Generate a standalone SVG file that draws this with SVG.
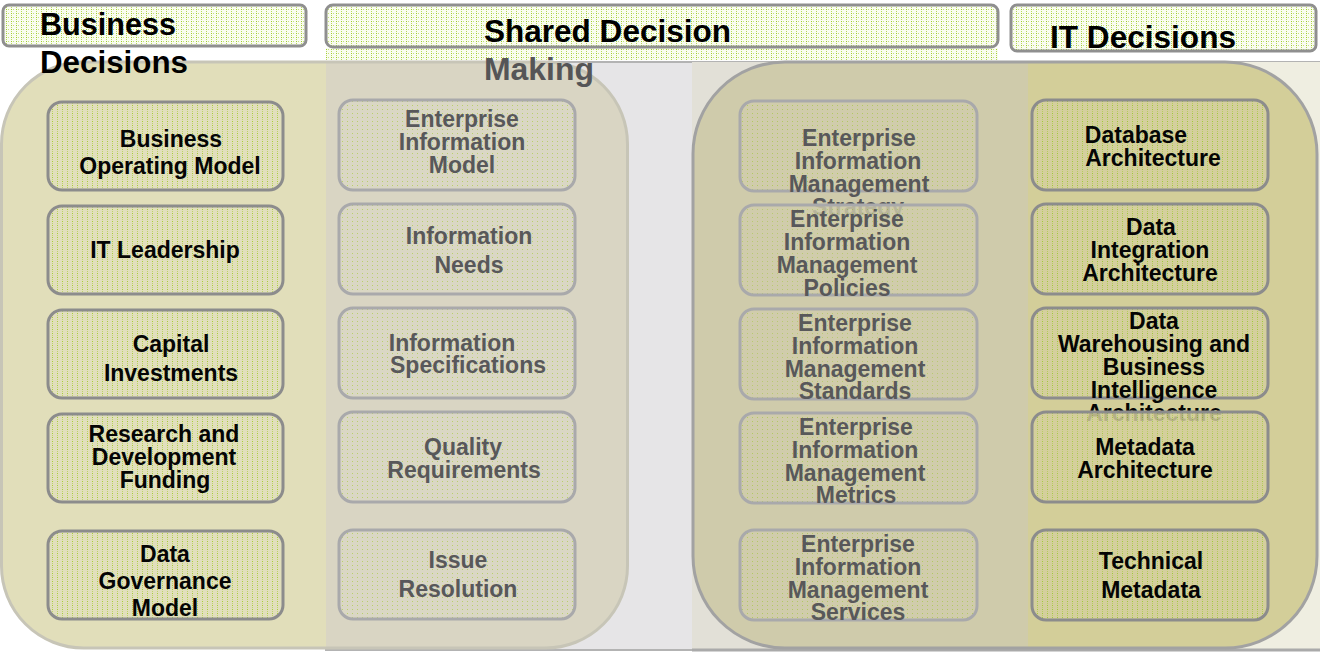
<svg xmlns="http://www.w3.org/2000/svg" width="1320" height="654" viewBox="0 0 1320 654">
<style>
.hd{font-family:"Liberation Sans",Arial,sans-serif;font-weight:bold;font-size:31px;fill:#000}
.t{font-family:"Liberation Sans",Arial,sans-serif;font-weight:bold;font-size:23px;text-anchor:middle}
.dk{fill:#050505}
.gr{fill:#58585a}
.nb{stroke:#8c8c8c;stroke-width:3}
.nl{stroke:#a9a9ab;stroke-width:3}
.hb{stroke:#8f8f8f;stroke-width:3}
</style>
<defs>
<pattern id="pH" width="5" height="4" patternUnits="userSpaceOnUse"><rect width="5" height="4" fill="#f9fcef"/><rect x="1" y="1" width="1" height="1" fill="#9fcc2e"/><rect x="3" y="1" width="1" height="1" fill="#c4e07a"/><rect x="1" y="3" width="1" height="1" fill="#b8da5c"/></pattern>
<pattern id="pL" width="5" height="4" patternUnits="userSpaceOnUse"><rect width="5" height="4" fill="#e1dfbc"/><rect x="2" y="1" width="1" height="1" fill="#a9cd3a"/><rect x="2" y="3" width="1" height="1" fill="#bed36a"/></pattern>
<pattern id="pM" width="5" height="4" patternUnits="userSpaceOnUse"><rect width="5" height="4" fill="#dad7c4"/><rect x="2" y="1" width="1" height="1" fill="#b9cf6c"/></pattern>
<pattern id="pRM" width="5" height="4" patternUnits="userSpaceOnUse"><rect width="5" height="4" fill="#d0ccab"/><rect x="2" y="1" width="1" height="1" fill="#b2c863"/></pattern>
<pattern id="pR" width="5" height="4" patternUnits="userSpaceOnUse"><rect width="5" height="4" fill="#d4cf9d"/><rect x="2" y="1" width="1" height="1" fill="#a2c83c"/><rect x="2" y="3" width="1" height="1" fill="#b8cc60"/></pattern>
<clipPath id="cL"><rect x="1.5" y="62" width="626" height="586" rx="82"/></clipPath>
<clipPath id="cR"><rect x="693" y="62" width="624" height="586" rx="92"/></clipPath>
</defs>
<rect width="1320" height="654" fill="#ffffff"/>

<g id="background">
<rect x="326" y="62" width="994" height="588" fill="#e6e5e7" stroke="#b3b3b3" stroke-width="2"/>
<rect x="692" y="62" width="336" height="588" fill="#e2e0d7"/>
<rect x="1028" y="62" width="292" height="588" fill="#efeee1"/>
<line x1="692" y1="650" x2="1320" y2="650" stroke="#aaaaaa" stroke-width="3"/>
<rect x="1.5" y="62" width="626" height="586" rx="82" fill="#e1deba"/>
<rect x="326" y="62" width="302" height="588" fill="#d9d5c3" clip-path="url(#cL)"/>
<rect x="1.5" y="62" width="626" height="586" rx="82" fill="none" stroke="#c7c5b7" stroke-width="3"/>
<rect x="693" y="62" width="624" height="586" rx="92" fill="#d3ce99"/>
<rect x="692" y="62" width="336" height="588" fill="#cfcbab" clip-path="url(#cR)"/>
<rect x="693" y="62" width="624" height="586" rx="92" fill="none" stroke="#a2a2a2" stroke-width="3"/>
</g>

<g id="header-shared">
<rect x="326" y="48" width="672" height="12" fill="url(#pH)"/>
<rect x="326" y="5" width="672" height="42" rx="7" fill="url(#pH)" class="hb"/>
<text class="hd" x="484" y="42" textLength="247" lengthAdjust="spacingAndGlyphs">Shared Decision</text>
<text class="hd" x="484" y="80" style="fill:#555557" textLength="110" lengthAdjust="spacingAndGlyphs">Making</text>
</g>
<g id="header-business">
<rect x="3" y="5" width="303" height="41" rx="6" fill="url(#pH)" class="hb"/>
<text class="hd" x="40" y="35" textLength="136" lengthAdjust="spacingAndGlyphs">Business</text>
<text class="hd" x="40" y="73" textLength="148" lengthAdjust="spacingAndGlyphs">Decisions</text>
</g>
<g id="header-it">
<rect x="1011" y="5" width="305" height="46" rx="6" fill="url(#pH)" class="hb"/>
<text class="hd" x="1050" y="48" textLength="186" lengthAdjust="spacingAndGlyphs">IT Decisions</text>
</g>

<g id="connectors"></g>

<g id="n-bom"><rect x="48" y="102" width="235" height="88" rx="14" fill="url(#pL)" class="nb"/><text class="t dk"><tspan x="171" y="147">Business</tspan><tspan x="170" y="174">Operating Model</tspan></text></g>
<g id="n-itl"><rect x="48" y="206" width="235" height="88" rx="14" fill="url(#pL)" class="nb"/><text class="t dk" x="165" y="258">IT Leadership</text></g>
<g id="n-cap"><rect x="48" y="310" width="235" height="88" rx="14" fill="url(#pL)" class="nb"/><text class="t dk"><tspan x="171" y="352">Capital</tspan><tspan x="171" y="381">Investments</tspan></text></g>
<g id="n-rdf"><rect x="48" y="414" width="235" height="88" rx="14" fill="url(#pL)" class="nb"/><text class="t dk"><tspan x="164" y="442">Research and</tspan><tspan x="164" y="465">Development</tspan><tspan x="165" y="488">Funding</tspan></text></g>
<g id="n-dgm"><rect x="48" y="531" width="235" height="88" rx="14" fill="url(#pL)" class="nb"/><text class="t dk"><tspan x="165" y="562">Data</tspan><tspan x="165" y="589">Governance</tspan><tspan x="165" y="616">Model</tspan></text></g>

<g id="n-eim"><rect x="339" y="100" width="236" height="90" rx="14" fill="url(#pM)" class="nl"/><text class="t gr"><tspan x="462" y="127">Enterprise</tspan><tspan x="462" y="150">Information</tspan><tspan x="462" y="173">Model</tspan></text></g>
<g id="n-in"><rect x="339" y="204" width="236" height="90" rx="14" fill="url(#pM)" class="nl"/><text class="t gr"><tspan x="469" y="244">Information</tspan><tspan x="469" y="273">Needs</tspan></text></g>
<g id="n-is"><rect x="339" y="308" width="236" height="90" rx="14" fill="url(#pM)" class="nl"/><text class="t gr"><tspan x="452" y="351">Information</tspan><tspan x="468" y="373">Specifications</tspan></text></g>
<g id="n-qr"><rect x="339" y="412" width="236" height="90" rx="14" fill="url(#pM)" class="nl"/><text class="t gr"><tspan x="463" y="455">Quality</tspan><tspan x="464" y="478">Requirements</tspan></text></g>
<g id="n-ir"><rect x="339" y="530" width="236" height="89" rx="14" fill="url(#pM)" class="nl"/><text class="t gr"><tspan x="458" y="568">Issue</tspan><tspan x="458" y="597">Resolution</tspan></text></g>

<g id="n-eims"><rect x="740" y="101" width="237" height="90" rx="14" fill="url(#pRM)" class="nl"/><text class="t gr"><tspan x="859" y="146">Enterprise</tspan><tspan x="858" y="169">Information</tspan><tspan x="859" y="192">Management</tspan><tspan x="858" y="215">Strategy</tspan></text></g>
<g id="n-eimp"><rect x="740" y="205" width="237" height="90" rx="14" fill="url(#pRM)" class="nl" fill-opacity="0.8"/><text class="t gr"><tspan x="847" y="227">Enterprise</tspan><tspan x="847" y="250">Information</tspan><tspan x="847" y="273">Management</tspan><tspan x="847" y="296">Policies</tspan></text></g>
<g id="n-eimst"><rect x="740" y="309" width="237" height="90" rx="14" fill="url(#pRM)" class="nl" fill-opacity="0.8"/><text class="t gr"><tspan x="855" y="331">Enterprise</tspan><tspan x="855" y="354">Information</tspan><tspan x="855" y="377">Management</tspan><tspan x="855" y="399">Standards</tspan></text></g>
<g id="n-eimm"><rect x="740" y="413" width="237" height="90" rx="14" fill="url(#pRM)" class="nl"/><text class="t gr"><tspan x="856" y="435">Enterprise</tspan><tspan x="855" y="458">Information</tspan><tspan x="855" y="481">Management</tspan><tspan x="856" y="503">Metrics</tspan></text></g>
<g id="n-eimse"><rect x="740" y="530" width="237" height="90" rx="14" fill="url(#pRM)" class="nl"/><text class="t gr"><tspan x="858" y="552">Enterprise</tspan><tspan x="858" y="575">Information</tspan><tspan x="858" y="598">Management</tspan><tspan x="858" y="620">Services</tspan></text></g>

<g id="n-dba"><rect x="1032" y="100" width="236" height="90" rx="14" fill="url(#pR)" class="nb"/><text class="t dk"><tspan x="1136" y="143">Database</tspan><tspan x="1153" y="166">Architecture</tspan></text></g>
<g id="n-dia"><rect x="1032" y="204" width="236" height="90" rx="14" fill="url(#pR)" class="nb"/><text class="t dk"><tspan x="1151" y="235">Data</tspan><tspan x="1150" y="258">Integration</tspan><tspan x="1150" y="281">Architecture</tspan></text></g>
<g id="n-dwbi"><rect x="1032" y="308" width="236" height="90" rx="14" fill="url(#pR)" class="nb"/><text class="t dk"><tspan x="1154" y="329">Data</tspan><tspan x="1154" y="352">Warehousing and</tspan><tspan x="1154" y="375">Business</tspan><tspan x="1154" y="398">Intelligence</tspan><tspan x="1154" y="421">Architecture</tspan></text></g>
<g id="n-mda"><rect x="1032" y="412" width="236" height="90" rx="14" fill="url(#pR)" class="nb" fill-opacity="0.85"/><text class="t dk"><tspan x="1145" y="455">Metadata</tspan><tspan x="1145" y="478">Architecture</tspan></text></g>
<g id="n-tm"><rect x="1032" y="530" width="236" height="90" rx="14" fill="url(#pR)" class="nb"/><text class="t dk"><tspan x="1151" y="569">Technical</tspan><tspan x="1151" y="598">Metadata</tspan></text></g>
</svg>
